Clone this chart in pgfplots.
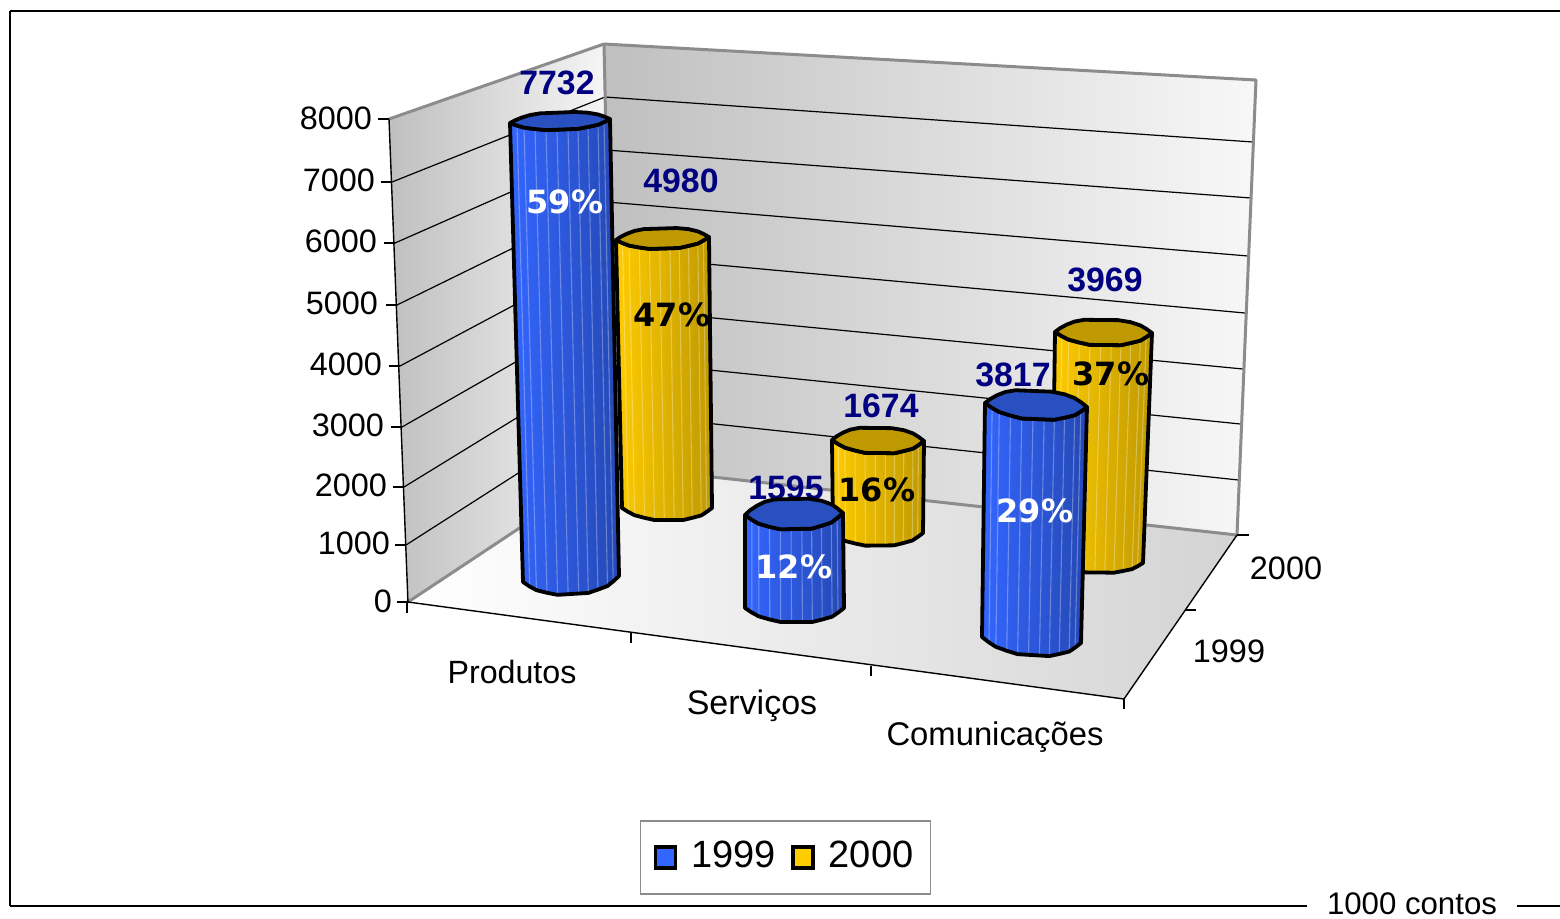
\documentclass[border=0pt]{standalone}
\usepackage{fontspec}
\setmainfont{Liberation Sans}
\newfontfamily\pctfont{DejaVu Sans}
\usepackage{pgfplots}
\usepackage{pgfplotstable}
\pgfplotsset{compat=1.18}

\definecolor{blueL}{HTML}{3366FF}
\definecolor{blueR}{HTML}{2448B4}
\definecolor{blueC}{HTML}{2850C0}
\definecolor{yelL}{HTML}{FFCC00}
\definecolor{yelR}{HTML}{BF9900}
\definecolor{yelC}{HTML}{BF9900}
\definecolor{navy}{HTML}{000080}
\definecolor{wallgray}{HTML}{8C8C8C}

% cross-section of a column: u = across, v = drop from the left-right baseline, z = 0 top, 1 bottom
\pgfplotstableread{
u v z
0 0 0
.07 .33 0
.14 .6 0
.25 .82 0
.36 1 0
.47 1 0
.58 1 0
.68 1 0
.78 .82 0
.88 .62 0
.94 .33 0
1 0 0
1 0 1
.94 .33 1
.88 .62 1
.78 .82 1
.68 1 1
.58 1 1
.47 1 1
.36 1 1
.25 .82 1
.14 .6 1
.07 .33 1
0 0 1
}\bodyprofile
\pgfplotstableread{
u v z
0 0 0
.07 .33 0
.14 .6 0
.25 .82 0
.36 1 0
.47 1 0
.58 1 0
.68 1 0
.78 .82 0
.88 .62 0
.94 .33 0
1 0 0
.94 -.33 0
.88 -.6 0
.78 -.85 0
.65 -1 0
.5 -1 0
.3 -1 0
.2 -.85 0
.12 -.6 0
.05 -.3 0
}\capprofile
\pgfplotstableread{
u v z
.07 .33 0
.07 .33 1
nan nan nan
.14 .6 0
.14 .6 1
nan nan nan
.25 .82 0
.25 .82 1
nan nan nan
.36 1 0
.36 1 1
nan nan nan
.47 1 0
.47 1 1
nan nan nan
.58 1 0
.58 1 1
nan nan nan
.68 1 0
.68 1 1
nan nan nan
.78 .82 0
.78 .82 1
nan nan nan
.88 .62 0
.88 .62 1
nan nan nan
.94 .33 0
.94 .33 1
}\facetprofile

\newcommand\setbottom[5]{\def\BLX{#1}\def\BLY{#2}\def\BRX{#3}\def\BRY{#4}\def\DB{#5}}
% {fill left}{fill right}{cap}{value}{pixels per unit}{top left x}{top right x}{tilt}{cap half depth}
\newcommand\drawcol[9]{%
  \pgfmathsetmacro\TLY{\BLY-#5*#4}%
  \pgfmathsetmacro\TRY{\TLY+#8}%
  \def\TLX{#6}\def\TRX{#7}\def\DT{#9}%
  \addplot[draw=none,left color=#1,right color=#2] table[x expr=\colx,y expr=\coly]{\bodyprofile} -- cycle;
  \addplot[white,opacity=.3,line width=.55pt,unbounded coords=jump] table[x expr=\colx,y expr=\coly]{\facetprofile};
  \addplot[black,line width=1.9pt,line join=round] table[x expr=\colx,y expr=\coly]{\bodyprofile} -- cycle;
  \addplot[fill=#3,draw=black,line width=1.9pt,line join=round] table[x expr=\colx,y expr=\coly]{\capprofile} -- cycle;
}
\def\colx{(1-\thisrow{z})*(\TLX+\thisrow{u}*(\TRX-\TLX))+\thisrow{z}*(\BLX+\thisrow{u}*(\BRX-\BLX))}
\def\coly{(1-\thisrow{z})*(\TLY+\thisrow{u}*(\TRY-\TLY)+\thisrow{v}*\DT)+\thisrow{z}*(\BLY+\thisrow{u}*(\BRY-\BLY)+\thisrow{v}*\DB)}

\newcommand\seg[5]{\addplot[#1] coordinates {(#2,#3) (#4,#5)};}
\newcommand\lab[4]{\node[font=\fontsize{#1}{#1}\selectfont,anchor=#2] at (axis cs:#3) {#4};}
\newcommand\vallab[2]{\node[font=\fontsize{16.9}{17}\selectfont\bfseries,text=navy,inner sep=0pt] at (axis cs:#1) {#2};}
\newcommand\pct[3]{\node[font=\fontsize{16}{17}\selectfont\pctfont\bfseries,text=#1,inner sep=0pt] at (axis cs:#2) {#3};}

\begin{document}
\begin{tikzpicture}
\begin{axis}[
  scale only axis,width=780pt,height=459pt,
  xmin=0,xmax=1560,ymin=0,ymax=918,y dir=reverse,
  hide axis,
  filter discard warning=false,
  every axis plot/.append style={forget plot},
  legend image code/.code={\draw[#1,line width=1.8pt] (0pt,-5.2pt) rectangle (10pt,5.2pt);\path[draw=none,fill=none] (0pt,0pt) -- (16pt,0pt);},
  legend columns=2,
  legend style={at={(axis cs:785.5,857.5)},anchor=center,draw=wallgray,line width=.8pt,
    font=\fontsize{19}{21}\selectfont,inner xsep=6.5pt,inner ysep=8pt,
    /tikz/every even column/.append style={column sep=5.5pt}},
]
\coordinate (PA) at (axis cs:0,918);
\coordinate (PB) at (axis cs:1560,0);
% frame
\seg{black,line width=.7pt}{10}{11}{1560}{11}
\seg{black,line width=.7pt}{10}{11}{10}{906}
\seg{black,line width=.7pt}{10}{906}{1307}{906}
\seg{black,line width=.7pt}{1517}{906}{1560}{906}
% walls and floor
\addplot[draw=none,left color=white,right color=black!17] coordinates {(408,602) (613,466) (1237,535) (1124,699)} -- cycle;
\addplot[draw=none,left color=black!25,right color=black!3] coordinates {(389,119) (604,44) (613,466) (408,602)} -- cycle;
\addplot[draw=none,left color=black!25,right color=black!3] coordinates {(604,44) (1256,80) (1237,535) (613,466)} -- cycle;
% gridlines
\seg{black,line width=.6pt}{392}{182}{605}{97}
\seg{black,line width=.6pt}{395}{243}{606}{150}
\seg{black,line width=.6pt}{397}{305}{607}{202}
\seg{black,line width=.6pt}{400}{366}{608}{255}
\seg{black,line width=.6pt}{402}{427}{610}{308}
\seg{black,line width=.6pt}{404}{487}{611}{360}
\seg{black,line width=.6pt}{406}{545}{612}{413}
\seg{black,line width=.6pt}{605}{97}{1253}{142}
\seg{black,line width=.6pt}{606}{150}{1251}{198}
\seg{black,line width=.6pt}{607}{202}{1248}{256}
\seg{black,line width=.6pt}{608}{255}{1245}{313}
\seg{black,line width=.6pt}{610}{308}{1243}{369}
\seg{black,line width=.6pt}{611}{360}{1240.5}{424}
\seg{black,line width=.6pt}{612}{413}{1238.5}{480}
% wall edges
\addplot[wallgray,line width=1.5pt,line join=round] coordinates {(389,119) (604,44) (1256,80) (1237,535) (613,466) (408,602)};
\seg{wallgray,line width=1.5pt}{604}{44}{613}{466}
\seg{black,line width=.7pt}{389}{119}{408}{603}
\seg{black,line width=.7pt}{408}{602}{1124}{699}
\seg{black,line width=.7pt}{1124}{699}{1237}{535}
% ticks
\seg{black,line width=.6pt}{378}{119}{389}{119}
\seg{black,line width=.6pt}{381}{182}{392}{182}
\seg{black,line width=.6pt}{384}{243}{395}{243}
\seg{black,line width=.6pt}{386}{305}{397}{305}
\seg{black,line width=.6pt}{389}{366}{400}{366}
\seg{black,line width=.6pt}{391}{427}{402}{427}
\seg{black,line width=.6pt}{393}{487}{404}{487}
\seg{black,line width=.6pt}{395}{545}{406}{545}
\seg{black,line width=.6pt}{397}{602}{408}{602}
\seg{black,line width=.6pt}{407}{602}{407}{613}
\seg{black,line width=.6pt}{631}{633}{631}{643}
\seg{black,line width=.6pt}{871}{666}{871}{676}
\seg{black,line width=.6pt}{1124}{699}{1124}{709}
\seg{black,line width=.6pt}{1237}{535}{1249}{535}
\seg{black,line width=.6pt}{1186}{610}{1196}{610}
% axis labels
\lab{16.2}{east}{379,118}{8000}
\lab{16.2}{east}{382,180}{7000}
\lab{16.2}{east}{384,241}{6000}
\lab{16.2}{east}{385,303}{5000}
\lab{16.2}{east}{389,364}{4000}
\lab{16.2}{east}{391,425}{3000}
\lab{16.2}{east}{394,485}{2000}
\lab{16.2}{east}{397,543}{1000}
\lab{16.2}{east}{399,601}{0}
\lab{16.1}{base}{512,683}{Produtos}
\lab{17}{base}{752,714}{Serviços}
\lab{16.4}{base}{995,745}{Comunicações}
\lab{16.2}{center}{1286,568}{2000}
\lab{16.2}{center}{1229,651}{1999}
\node[font=\fontsize{15.6}{16}\selectfont,anchor=base,inner sep=0pt] at (axis cs:1412,914) {1000 contos};
% 2000 series
\setbottom{622}{508}{712}{508}{12}
\drawcol{yelL}{yelR}{yelC}{4980}{.05382}{616}{709}{-3}{10}
\setbottom{833}{534}{923}{533}{12}
\drawcol{yelL}{yelR}{yelC}{1674}{.05615}{832}{924}{1}{12.5}
\setbottom{1052}{562}{1143}{563}{10}
\drawcol{yelL}{yelR}{yelC}{3969}{.05795}{1055}{1152}{1}{12.5}
\vallab{681,181}{4980}
\vallab{881,406}{1674}
\vallab{1105,280}{3969}
\pct{black}{672,315}{47\%}
\pct{black}{877,490}{16\%}
\pct{black}{1111,374}{37\%}
% 1999 series
\vallab{557,83}{7732}
\vallab{786,488}{1595}
\vallab{1013,375}{3817}
\setbottom{523}{582}{619}{576}{15}
\drawcol{blueL}{blueR}{blueC}{7732}{.05936}{510}{610}{-4}{8.5}
\setbottom{745}{608}{844}{608}{14}
\drawcol{blueL}{blueR}{blueC}{1595}{.05831}{745}{843}{-2}{15}
\setbottom{982}{637}{1081}{643}{15}
\drawcol{blueL}{blueR}{blueC}{3817}{.0613}{985}{1087}{4}{14}
\pct{white}{565,202}{59\%}
\pct{white}{794,567}{12\%}
\pct{white}{1035,511}{29\%}
% legend
\addlegendimage{fill=blueL}
\addlegendentry{\raisebox{1.5pt}{1999}}
\addlegendimage{fill=yelL}
\addlegendentry{\raisebox{1.5pt}{2000}}
\end{axis}
\pgfresetboundingbox
\path[use as bounding box] (PA) rectangle (PB);
\end{tikzpicture}
\end{document}
